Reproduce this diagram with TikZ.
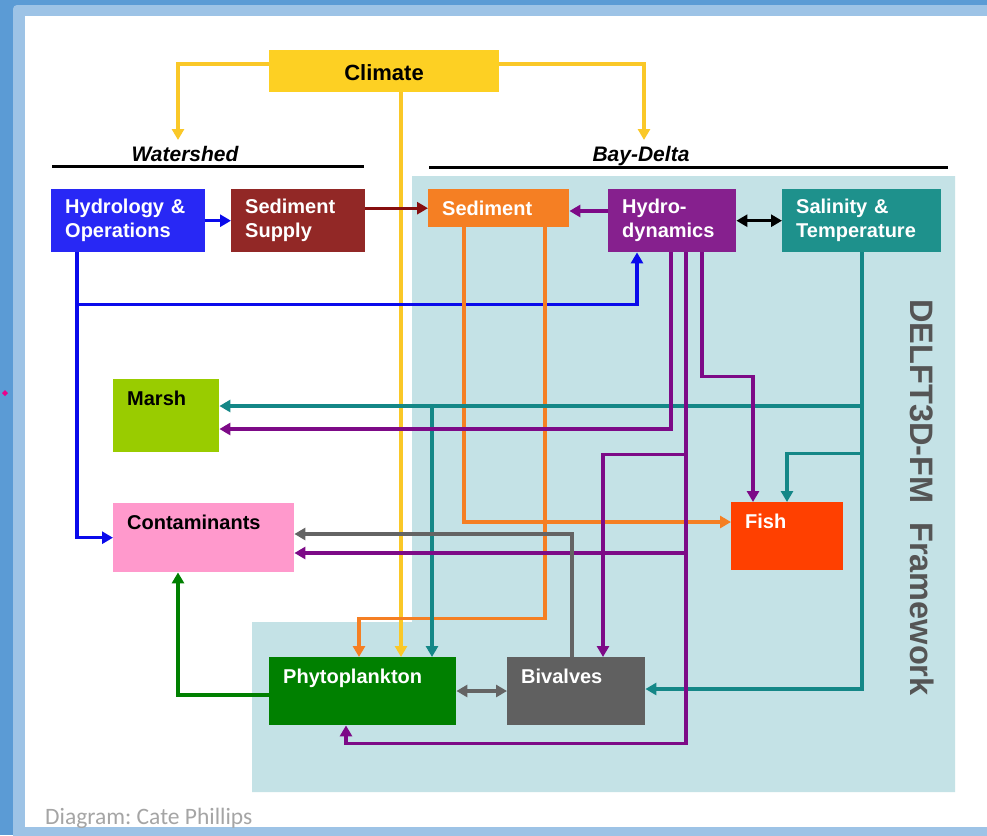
\documentclass[tikz,border=0pt]{standalone}
\usepackage{fontspec}
\setmainfont{Liberation Sans}
\newfontfamily\creditfont{Carlito}
\usetikzlibrary{arrows.meta}
\frenchspacing
\definecolor{frameblue}{RGB}{91,155,213}
\definecolor{framelight}{RGB}{157,195,230}
\definecolor{delft}{RGB}{196,226,230}
\definecolor{climatec}{RGB}{253,208,35}
\definecolor{ylw}{RGB}{250,200,40}
\definecolor{hydblue}{RGB}{40,40,245}
\definecolor{lblue}{RGB}{10,10,235}
\definecolor{ssupc}{RGB}{146,40,38}
\definecolor{dred}{RGB}{135,15,15}
\definecolor{sedc}{RGB}{245,127,35}
\definecolor{hdync}{RGB}{134,32,142}
\definecolor{purp}{RGB}{125,10,135}
\definecolor{salc}{RGB}{30,145,140}
\definecolor{tealc}{RGB}{20,135,135}
\definecolor{marshc}{RGB}{153,204,0}
\definecolor{contc}{RGB}{255,153,204}
\definecolor{phytoc}{RGB}{0,128,0}
\definecolor{bivc}{RGB}{96,96,96}
\definecolor{fishc}{RGB}{255,64,0}
\definecolor{gline}{RGB}{100,100,100}
\definecolor{delfttext}{RGB}{85,85,85}
\definecolor{creditc}{RGB}{165,165,165}
\begin{document}
\begin{tikzpicture}[x=1pt,y=-1pt,
  conn/.style={line width=3.3pt,-{Triangle[length=11pt,width=12pt]}},
  dconn/.style={line width=3.3pt,{Triangle[length=11pt,width=12pt]}-{Triangle[length=11pt,width=12pt]}},
  cbox/.style={anchor=north west,inner ysep=0pt,inner xsep=14pt,align=left,text=white,
    font=\fontsize{20}{24}\selectfont\bfseries},
  tbox/.style={cbox,text height=26pt},
  hdr/.style={anchor=base,font=\fontsize{21}{24}\selectfont\bfseries\itshape},
  hline/.style={line width=3pt,black}]
\useasboundingbox (0,0) rectangle (987,835);
\clip (0,0) rectangle (987,835);
% frame
\fill[frameblue] (0,0) rectangle (987,835);
\fill[framelight,rounded corners=4pt] (13,5) rectangle (1000,850);
\fill[white] (25,16) rectangle (987,827);
\fill[magenta] (5,390) -- (8,393) -- (5,396) -- (2,393) -- cycle;
% DELFT region
\fill[delft] (412,176) -- (955,176) -- (955,792) -- (252,792) -- (252,622) -- (412,622) -- cycle;
\node[rotate=-90,text=delfttext,font=\fontsize{32.5}{36}\selectfont\bfseries] (delftlbl) at (922,497.5) {DELFT3D-FM\hspace{19pt}Framework};
% headers
\node[hdr] (wshed) at (185,161) {Watershed};
\node[hdr] (bdelta) at (641,161) {Bay-Delta};
\draw[hline] (52,166) -- (364,166);
\draw[hline] (429,167) -- (948,167);
\coordinate (wsd) at (178,140);
\coordinate (bdd) at (644,140);
% boxes
\node[anchor=north west,fill=climatec,minimum width=230pt,minimum height=42pt,inner sep=0pt] (climate) at (269,50) {};
\node[anchor=base,font=\fontsize{22}{24}\selectfont\bfseries] (climatelbl) at (384,80) {Climate};
\node[cbox,fill=hydblue,text width=126pt,minimum height=63pt] (hyd) at (51,189) {Hydrology \&\\Operations};
\node[cbox,fill=ssupc,text width=106pt,minimum height=63pt] (ssup) at (231,189) {Sediment\\Supply};
\node[cbox,fill=sedc,text width=113pt,minimum height=38pt] (sed) at (428,189) {Sediment};
\node[cbox,fill=hdync,text width=100pt,minimum height=63pt] (hdyn) at (608,189) {Hydro-\\dynamics};
\node[cbox,fill=salc,text width=131pt,minimum height=63pt] (sal) at (782,189) {Salinity \&\\Temperature};
\node[tbox,fill=marshc,text=black,text width=78pt,text depth=47pt] (marsh) at (113,379) {Marsh};
\node[tbox,fill=contc,text=black,text width=153pt,text depth=43pt] (cont) at (113,503) {Contaminants};
\node[tbox,fill=fishc,text width=84pt,text depth=42pt] (fish) at (731,502) {Fish};
\node[tbox,fill=phytoc,text width=159pt,text depth=42pt] (phyto) at (269,657) {Phytoplankton};
\node[tbox,fill=bivc,text width=110pt,text depth=42pt] (biv) at (507,657) {Bivalves};
% climate connectors
\draw[conn,ylw] (climate.west |- 0,64) -| (wsd);
\draw[conn,ylw] (climate.east |- 0,64) -| (bdd);
\draw[conn,ylw] ([xshift=132pt]climate.south west) -- ([xshift=132pt]phyto.north west);
% top row
\draw[conn,lblue] (hyd.east) -- (ssup.west);
\draw[conn,dred] (ssup.east |- sed.west) -- (sed.west);
\draw[conn,purp] (hdyn.west |- 0,211) -- (sed.east |- 0,211);
\draw[dconn,black] (hdyn.east) -- (sal.west);
% blue from hydrology
\draw[conn,lblue] ([xshift=26pt]hyd.south west) |- (cont.west);
\draw[conn,lblue] ([xshift=26pt]hyd.south west) -- ++(0,52) -| ([xshift=29pt]hdyn.south west);
% orange from sediment
\draw[conn,sedc] ([xshift=36pt]sed.south west) |- (fish.west |- 0,522);
\draw[conn,sedc] ([xshift=117pt]sed.south west) -- ++(0,391) -| ([xshift=90pt]phyto.north west);
% teal from salinity
\draw[conn,tealc] ([xshift=80pt]sal.south west) |- (marsh.east |- 0,406);
\draw[conn,tealc] ([xshift=80pt]sal.south west) -- ++(0,154) -| ([xshift=163pt]phyto.north west);
\draw[conn,tealc] ([xshift=80pt]sal.south west) -- ++(0,201) -| ([xshift=56pt]fish.north west);
\draw[conn,tealc] ([xshift=80pt]sal.south west) |- (biv.east |- 0,689);
% purple from hydrodynamics
\draw[conn,purp] ([xshift=63pt]hdyn.south west) |- (marsh.east |- 0,429);
\draw[conn,purp] ([xshift=78pt]hdyn.south west) -- ++(0,202) -| ([xshift=96pt]biv.north west);
\draw[conn,purp] ([xshift=78pt]hdyn.south west) |- (cont.east |- 0,553);
\draw[conn,purp] ([xshift=78pt]hdyn.south west) -- ++(0,491) -| ([xshift=77pt]phyto.south west);
\draw[conn,purp] ([xshift=94pt]hdyn.south west) -- ++(0,124) -| ([xshift=22pt]fish.north west);
% gray and green
\draw[conn,gline] ([xshift=65pt]biv.north west) |- (cont.east |- 0,534);
\draw[dconn,gline] (phyto.east |- 0,691) -- (biv.west |- 0,691);
\draw[conn,phytoc] (phyto.west |- 0,695) -| ([xshift=65pt]cont.south west);
% credit
\node[anchor=base west,text=creditc,font=\creditfont\fontsize{23.5}{26}\selectfont,inner sep=0pt] (credit) at (45,824) {Diagram: Cate Phillips};
\end{tikzpicture}
\end{document}
